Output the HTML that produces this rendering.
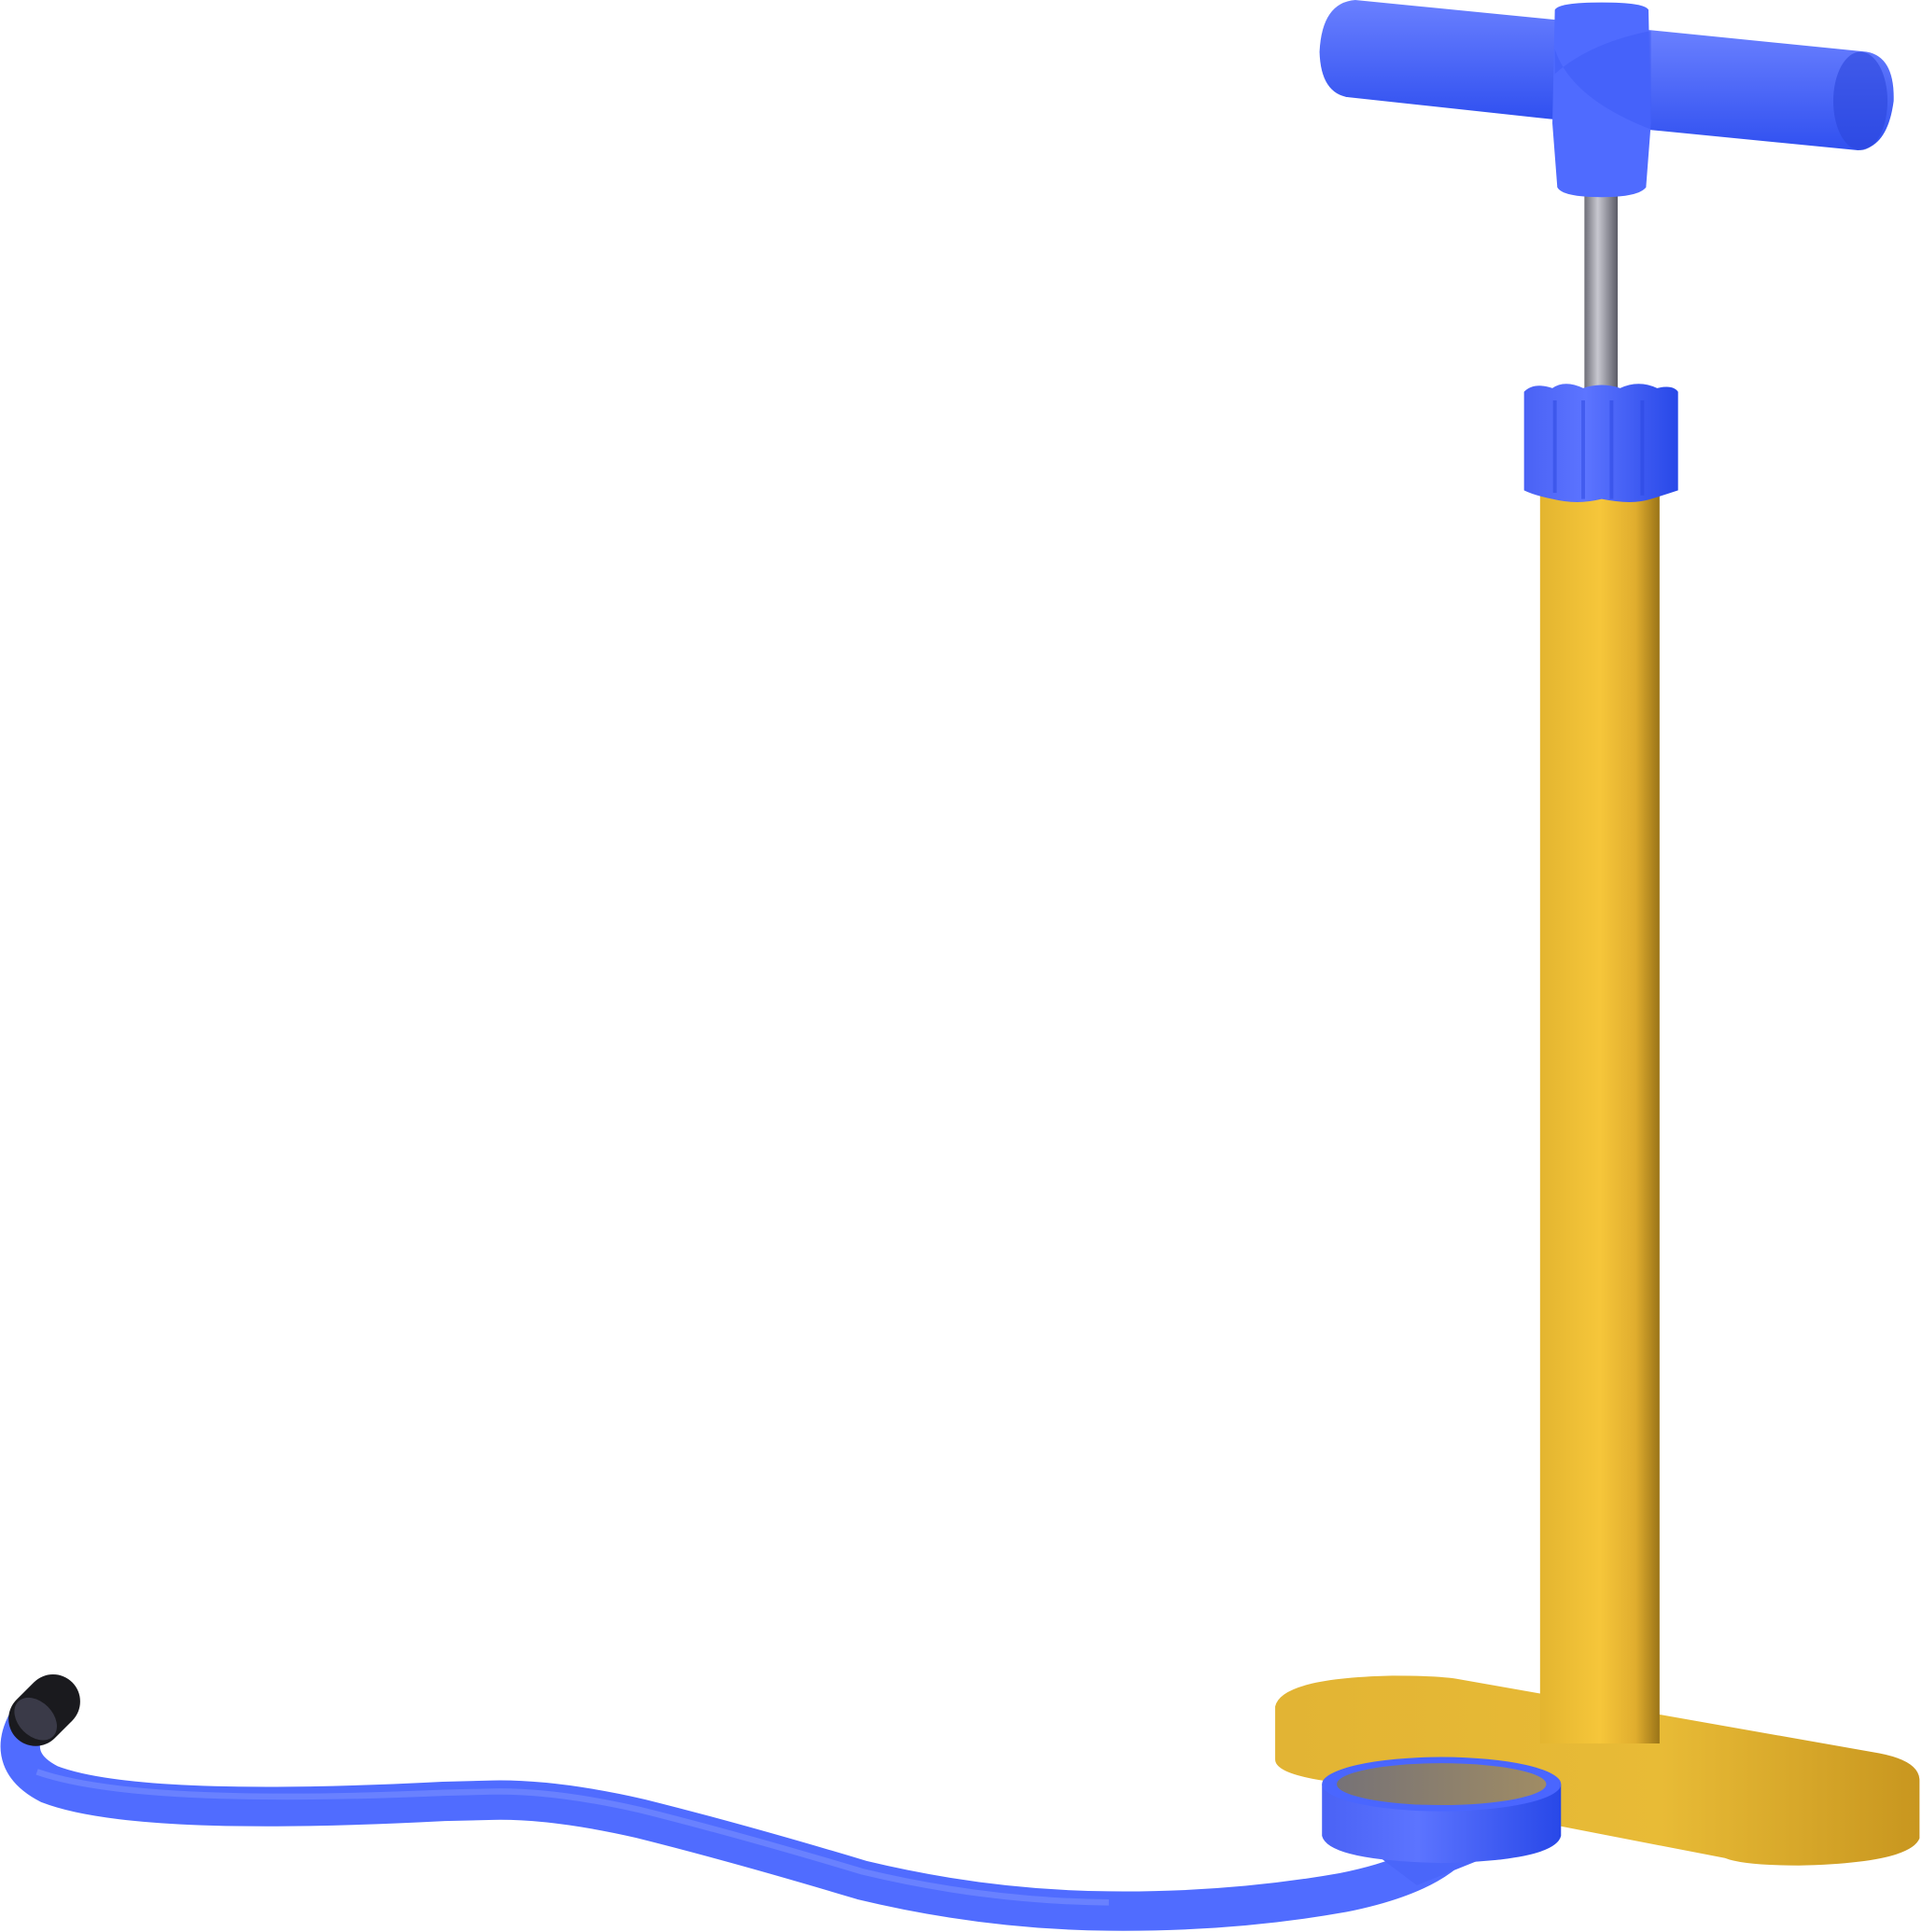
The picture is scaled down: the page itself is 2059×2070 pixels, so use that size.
<!DOCTYPE html>
<html><head><meta charset="utf-8"><style>html,body{margin:0;padding:0;background:#fff}svg{display:block}</style></head>
<body>
<svg width="2059" height="2070" viewBox="0 0 1560 1568" preserveAspectRatio="none" xmlns="http://www.w3.org/2000/svg">
<defs>
<linearGradient id="barrel" x1="0" x2="1" y1="0" y2="0"><stop offset="0" stop-color="#e3b530"/><stop offset="0.5" stop-color="#f6c63a"/><stop offset="0.8" stop-color="#e0ad2e"/><stop offset="1" stop-color="#9a7418"/></linearGradient>
<linearGradient id="rod" x1="0" x2="1"><stop offset="0" stop-color="#6e6e78"/><stop offset="0.4" stop-color="#c8c8d0"/><stop offset="1" stop-color="#5a5a66"/></linearGradient>
<linearGradient id="blueV" x1="0" x2="0" y1="0" y2="1"><stop offset="0" stop-color="#6a80ff"/><stop offset="1" stop-color="#3050f0"/></linearGradient>
<linearGradient id="blueH" x1="0" x2="1"><stop offset="0" stop-color="#4a62f5"/><stop offset="0.4" stop-color="#5c74ff"/><stop offset="1" stop-color="#2848e8"/></linearGradient>
<linearGradient id="gauge" x1="0" x2="1"><stop offset="0" stop-color="#767276"/><stop offset="1" stop-color="#a08c64"/></linearGradient>
<linearGradient id="base" x1="0" x2="1"><stop offset="0" stop-color="#e2b434"/><stop offset="0.6" stop-color="#e8bb36"/><stop offset="1" stop-color="#c8961f"/></linearGradient>
</defs>
<path fill="url(#base)" d="M1035,1385 Q1040,1362 1130,1360 Q1170,1360 1185,1363 L1520,1422 Q1558,1428 1558,1445 L1558,1492 Q1550,1512 1460,1514 Q1415,1514 1400,1508 L1080,1446 Q1035,1440 1035,1428 Z"/>
<rect x="1250" y="400" width="97" height="1015" fill="url(#barrel)"/>
<rect x="1286" y="158" width="27" height="170" fill="url(#rod)"/>
<path fill="url(#blueH)" d="M1237,318 Q1245,310 1260,315 Q1270,308 1285,315 Q1300,310 1315,315 Q1330,308 1345,315 Q1358,312 1362,318 L1362,398 Q1350,402 1340,405 Q1325,410 1300,405 Q1280,410 1260,405 Q1245,402 1237,398 Z"/>
<g stroke="#2a46e0" stroke-width="3" opacity="0.5"><line x1="1262" y1="325" x2="1262" y2="400"/><line x1="1285" y1="325" x2="1285" y2="405"/><line x1="1308" y1="325" x2="1308" y2="405"/><line x1="1333" y1="325" x2="1333" y2="402"/></g>
<path fill="url(#blueV)" d="M1100,0 L1262,16 L1262,97 L1095,79 Q1072,76 1071,42 Q1073,2 1100,0 Z"/>
<path fill="url(#blueV)" d="M1335,24 L1515,42 Q1538,46 1537,82 Q1532,120 1508,122 L1335,105 Z"/>
<ellipse cx="1510" cy="82" rx="22" ry="40" fill="#2b46dc" opacity="0.6"/>
<path fill="#4f6bff" d="M1262,8 Q1265,2 1300,2 Q1335,2 1338,8 L1340,100 L1336,152 Q1330,160 1300,160 Q1268,160 1264,152 L1260,100 Z"/>
<path fill="#3f5bf6" opacity="0.6" d="M1262,40 Q1275,80 1340,105 L1340,25 Q1290,35 1262,60 Z"/>
<path fill="none" stroke="#506cff" stroke-width="32" stroke-linecap="round" d="M22,1398 Q5,1430 40,1448 Q110,1475 360,1462 L400,1461 Q450,1460 520,1476 Q600,1496 700,1526 Q800,1550 900,1551 Q1000,1552 1090,1536 Q1160,1522 1182,1494"/>
<path fill="#4a66fa" d="M1110,1500 L1195,1480 L1200,1510 L1150,1530 Z"/>
<path fill="none" stroke="#7a90ff" stroke-width="5" opacity="0.6" d="M30,1438 Q110,1466 360,1455 L400,1454 Q450,1453 520,1469 Q600,1489 700,1519 Q800,1543 900,1544"/>
<g transform="translate(36,1388) rotate(-45)">
<rect x="-32" y="-22" width="64" height="44" rx="22" fill="#1a1a1e"/>
<ellipse cx="-10" cy="0" rx="14" ry="20" fill="#3a3a48"/>
</g>
<path fill="url(#blueH)" d="M1073,1448 L1073,1490 Q1078,1510 1170,1512 Q1262,1510 1267,1490 L1267,1448 Z"/>
<ellipse cx="1170" cy="1448" rx="97" ry="22" fill="#4a66ff"/>
<ellipse cx="1170" cy="1448" rx="85" ry="17" fill="url(#gauge)"/>
</svg>
</body></html>
